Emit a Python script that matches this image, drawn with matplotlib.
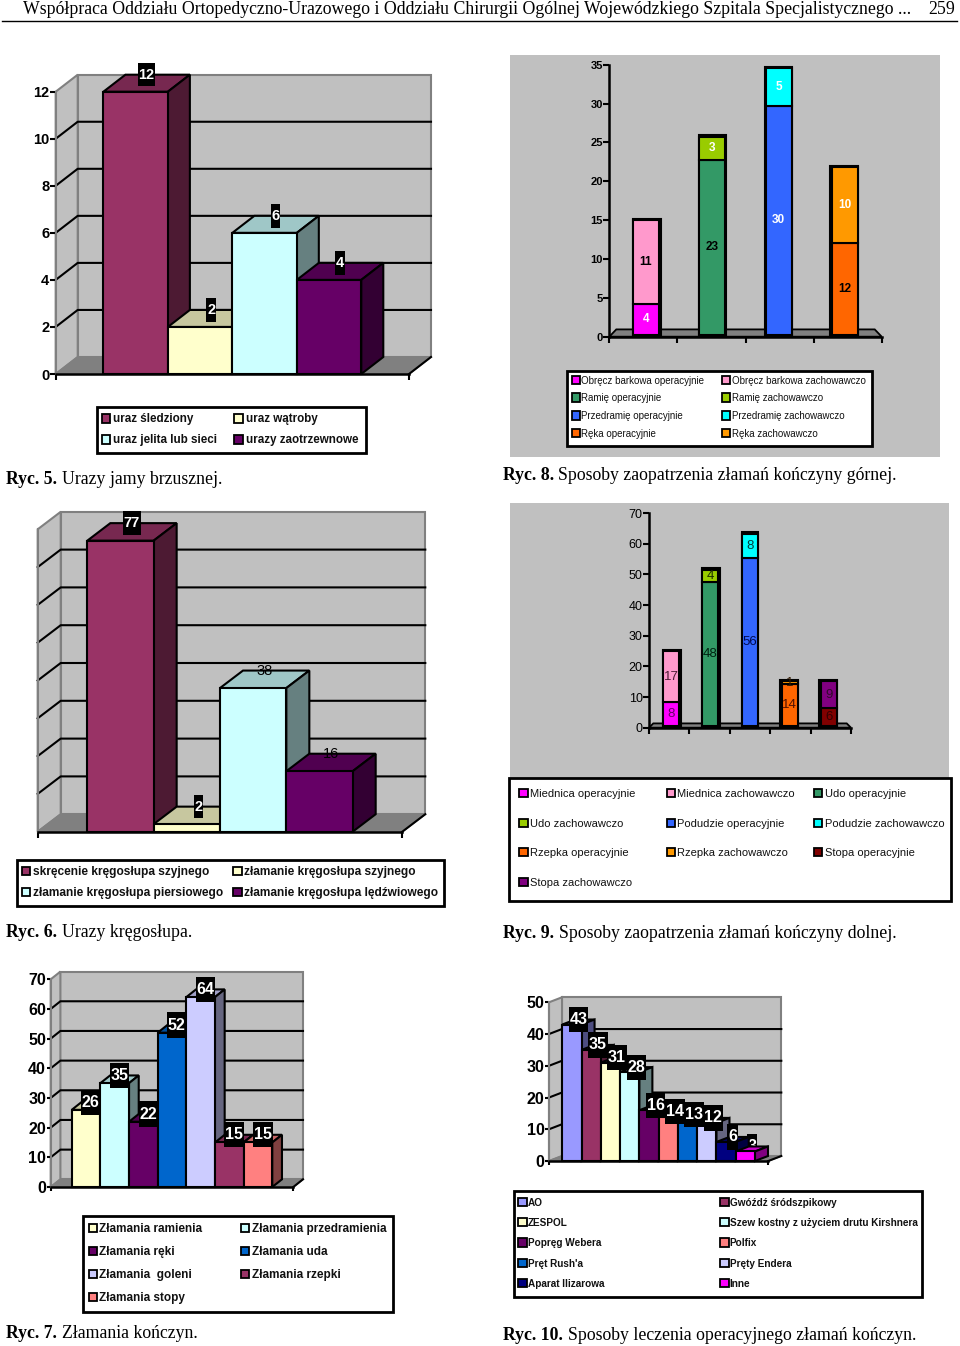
import matplotlib
matplotlib.use('Agg')
import matplotlib.pyplot as plt
from matplotlib.colors import to_rgb
from matplotlib.patches import Rectangle
from matplotlib.path import Path

plt.rcParams['font.family'] = ['Liberation Sans', 'DejaVu Sans']

W, H = 960, 1346
GRAY_WALL = '#C0C0C0'
GRAY_DARK = '#808080'

# Ryc. 5
r5_labels = ['uraz śledziony', 'uraz wątroby', 'uraz jelita lub sieci', 'urazy zaotrzewnowe']
r5_values = [12, 2, 6, 4]
r5_colors = ['#993366', '#FFFFCC', '#CCFFFF', '#660066']
r5_ticks = [0, 2, 4, 6, 8, 10, 12]

# Ryc. 6
r6_labels = ['skręcenie kręgosłupa szyjnego', 'złamanie kręgosłupa szyjnego',
             'złamanie kręgosłupa piersiowego', 'złamanie kręgosłupa lędźwiowego']
r6_values = [77, 2, 38, 16]
r6_colors = ['#993366', '#FFFFCC', '#CCFFFF', '#660066']
r6_ticks = [0, 10, 20, 30, 40, 50, 60, 70, 80]

# Ryc. 7
r7_labels = ['Złamania ramienia', 'Złamania przedramienia', 'Złamania ręki', 'Złamania uda',
             'Złamania  goleni', 'Złamania rzepki', 'Złamania stopy']
r7_values = [26, 35, 22, 52, 64, 15, 15]
r7_colors = ['#FFFFCC', '#CCFFFF', '#660066', '#0066CC', '#CCCCFF', '#993366', '#FF8080']
r7_ticks = [0, 10, 20, 30, 40, 50, 60, 70]

# Ryc. 10
r10_labels = ['AO', 'Gwóźdź śródszpikowy', 'ZESPOL', 'Szew kostny z użyciem drutu Kirshnera',
              'Popręg Webera', 'Polfix', 'Pręt Rush\'a', 'Pręty Endera', 'Aparat Ilizarowa', 'Inne']
r10_values = [43, 35, 31, 28, 16, 14, 13, 12, 6, 3]
r10_colors = ['#9999FF', '#993366', '#FFFFCC', '#CCFFFF', '#660066',
              '#FF8080', '#0066CC', '#CCCCFF', '#000080', '#FF00FF']
r10_ticks = [0, 10, 20, 30, 40, 50]

# Ryc. 8
r8_labels = ['Obręcz barkowa operacyjnie', 'Obręcz barkowa zachowawczo',
             'Ramię operacyjnie', 'Ramię zachowawczo',
             'Przedramię operacyjnie', 'Przedramię zachowawczo',
             'Ręka operacyjnie', 'Ręka zachowawczo']
r8_oper = [4, 23, 30, 12]
r8_zach = [11, 3, 5, 10]
r8_oper_colors = ['#FF00FF', '#339966', '#3366FF', '#FF6600']
r8_zach_colors = ['#FF99CC', '#99CC00', '#00FFFF', '#FF9900']
r8_oper_text = ['white', 'black', 'white', 'black']
r8_zach_text = ['black', 'white', 'white', 'white']
r8_ticks = [0, 5, 10, 15, 20, 25, 30, 35]

# Ryc. 9
r9_labels = ['Miednica operacyjnie', 'Miednica zachowawczo', 'Udo operacyjnie',
             'Udo zachowawczo', 'Podudzie operacyjnie', 'Podudzie zachowawczo',
             'Rzepka operacyjnie', 'Rzepka zachowawczo', 'Stopa operacyjnie',
             'Stopa zachowawczo']
r9_oper = [8, 48, 56, 14, 6]
r9_zach = [17, 4, 8, 1, 9]
r9_oper_colors = ['#FF00FF', '#339966', '#3366FF', '#FF6600', '#800000']
r9_zach_colors = ['#FF99CC', '#99CC00', '#00FFFF', '#FF9900', '#800080']
r9_oper_text = ['#660066', '#002010', '#000A50', '#501000', '#300000']
r9_zach_text = ['#4D1A33', '#1B2D00', '#003D3D', '#301800', '#300A2A']
r9_ticks = [0, 10, 20, 30, 40, 50, 60, 70]


def shade(color, k):
    return tuple(c * k for c in to_rgb(color))


def tall_box(x0, y0, width, height, mutation_size):
    # label box of the original is higher than it is wide
    px, py = 0.05 * mutation_size, 0.32 * mutation_size
    x0, y0, x1, y1 = x0 - px, y0 - py, x0 + width + px, y0 + height + py
    return Path([(x0, y0), (x1, y0), (x1, y1), (x0, y1), (x0, y0)], closed=True)


def make_axes(left, right, y0, ytop):
    ax = fig.add_axes([left / W, 1 - y0 / H, (right - left) / W, (y0 - ytop) / H])
    ax.patch.set_visible(False)
    for s in ['top', 'right']:
        ax.spines[s].set_visible(False)
    return ax


def bar3d(ax, x, top, width, ddx, ddy, color, z, lw=1.5):
    top_c, side_c = shade(color, 0.78), shade(color, 0.5)
    ax.fill([x, x + width, x + width + ddx, x + ddx], [top, top, top + ddy, top + ddy],
            fc=top_c, ec='black', lw=lw, zorder=z, clip_on=False)
    ax.fill([x + width, x + width + ddx, x + width + ddx, x + width],
            [0, ddy, top + ddy, top],
            fc=side_c, ec='black', lw=lw, zorder=z, clip_on=False)
    ax.bar(x, top, width, align='edge', color=color, edgecolor='black', linewidth=lw,
           zorder=z + 0.1, clip_on=False)


def walls(ax, xlim, ymax, ticks, ddx, ddy):
    xa, xb = xlim
    ax.fill([xa + ddx, xb + ddx, xb + ddx, xa + ddx], [ddy, ddy, ymax + ddy, ymax + ddy],
            fc=GRAY_WALL, ec=GRAY_DARK, lw=1.5, zorder=1, clip_on=False)
    ax.fill([xa, xa + ddx, xa + ddx, xa], [0, ddy, ymax + ddy, ymax],
            fc=GRAY_WALL, ec=GRAY_DARK, lw=1.5, zorder=1, clip_on=False)
    for v in ticks:
        if v == 0 or v == ymax:
            continue
        ax.plot([xa, xa + ddx, xb + ddx], [v, v + ddy, v + ddy], color='black', lw=1.5,
                zorder=1.2, clip_on=False)
    ax.fill([xa, xb, xb + ddx, xa + ddx], [0, 0, ddy, ddy], fc=GRAY_DARK, ec=GRAY_DARK, lw=1.2,
            zorder=1.5, clip_on=False)
    ax.plot([xb, xb + ddx], [0, ddy], color='black', lw=1.5, zorder=1.6, clip_on=False)


def style_ticks(ax, ticks, tick_size, tick_weight, xticks, spine_color, show_labels=True, tick_len=4):
    ax.set_yticks(ticks)
    ax.set_yticklabels([str(t) for t in ticks] if show_labels else [],
                       fontsize=tick_size, fontweight=tick_weight)
    ax.set_xticks(xticks)
    ax.set_xticklabels([])
    ax.tick_params(axis='both', length=tick_len, width=1.5, direction='out', pad=0.5, color='black')
    if not show_labels:
        ax.set_yticks([])
    ax.spines['left'].set_color(spine_color)
    ax.spines['left'].set_linewidth(1.5)
    ax.spines['bottom'].set_linewidth(1.8)


def chart_3d(box, ymax, values, colors, ticks, gap, dx, dy, tick_size, label_size,
             boxed=None, under=(), show_labels=True, tick_weight='bold', tick_len=4):
    left, right, y0, ytop = box
    ax = make_axes(left, right, y0, ytop)
    n = len(values)
    xlim = (-gap, n + gap)
    ax.set_xlim(xlim)
    ax.set_ylim(0, ymax)
    ddx = dx * (xlim[1] - xlim[0]) / (right - left)
    ddy = dy * ymax / (y0 - ytop)
    walls(ax, xlim, ymax, ticks, ddx, ddy)
    for i, v in enumerate(values):
        bar3d(ax, i, v, 1, ddx, ddy, colors[i], 2 + i * 0.2)
        is_boxed = boxed is None or boxed[i]
        z = 1.8 if i in under else 10
        ax.text(i + 0.5 + ddx / 2, v + ddy, str(v), ha='center', va='center',
                fontsize=label_size, fontweight='bold' if is_boxed else 'normal',
                color='white' if is_boxed else 'black', zorder=z,
                bbox=dict(boxstyle=tall_box, fc='black', ec='none') if is_boxed else None)
    style_ticks(ax, ticks, tick_size, tick_weight, list(xlim), GRAY_DARK, show_labels, tick_len)
    ax.set_xlim(xlim)
    ax.set_ylim(0, ymax)
    return ax


def chart_stacked(box, ymax, lower, upper, low_c, up_c, low_t, up_t, ticks, bar_w, dx, dy,
                  tick_size, label_size, tick_weight, lift, persp=0.98):
    left, right, y0, ytop = box
    ax = make_axes(left, right, y0, ytop)
    n = len(lower)
    ax.set_xlim(0, n)
    ax.set_ylim(0, ymax)
    unit = n / (right - left)
    yunit = ymax / (y0 - ytop)
    ddx, ddy = dx * unit, dy * yunit
    # floor narrows towards the back, the bars stand half way on it
    ax.fill([0, n, n - ddx, ddx], [0, 0, ddy, ddy], fc=GRAY_DARK, ec='black', lw=1.3,
            zorder=1.5, clip_on=False)
    step = (n - ddx) / n
    w = bar_w * unit
    sy = lift * yunit
    for i in range(n):
        cx = ddx / 2 + (i + 0.5) * step
        x = cx - w / 2
        y1 = sy + lower[i] * persp
        y2 = y1 + upper[i] * persp
        # black side and top of the bar, on the side that faces the middle
        side = 3 * unit * (1 - 2 * (i + 0.5) / n)
        ax.add_patch(Rectangle((x + min(side, 0), sy), w + abs(side), y2 - sy + 1.5 * yunit,
                               fc='black', ec='black', lw=1.5, zorder=2, clip_on=False))
        ax.bar(x, y1 - sy, w, bottom=sy, align='edge', color=low_c[i], edgecolor='black',
               linewidth=1.5, zorder=2.5, clip_on=False)
        ax.bar(x, y2 - y1, w, bottom=y1, align='edge', color=up_c[i], edgecolor='black',
               linewidth=1.5, zorder=2.5, clip_on=False)
        ax.text(cx, (sy + y1) / 2, str(lower[i]), ha='center', va='center',
                fontsize=label_size, color=low_t[i], fontweight=tick_weight, zorder=5)
        ax.text(cx, (y1 + y2) / 2, str(upper[i]), ha='center', va='center',
                fontsize=label_size, color=up_t[i], fontweight=tick_weight, zorder=5)
    style_ticks(ax, ticks, tick_size, tick_weight, list(range(n + 1)), 'black')
    ax.spines['left'].set_linewidth(1.8)
    ax.set_xlim(0, n)
    ax.set_ylim(0, ymax)
    return ax


def legend(box, labels, colors, rows, swatch_x, text_x, size, weight='bold', lw=2):
    x0, x1, y0, y1 = box
    page.add_patch(Rectangle((x0, y0), x1 - x0, y1 - y0, fc='white', ec='black', lw=lw, zorder=3))
    ncol = len(swatch_x)
    for i, lab in enumerate(labels):
        r, c = i // ncol, i % ncol
        page.add_patch(Rectangle((swatch_x[c], rows[r] - 4.2), 8.4, 8.4, fc=colors[i], ec='black',
                                 lw=1.3, zorder=4))
        page.text(text_x[c], rows[r] + 1, lab, fontsize=size, fontweight=weight, ha='left',
                  va='center', zorder=4, color='#111111')


def caption(x_bold, x_reg, y, bold, reg):
    page.text(x_bold, y + 1, bold, family='Liberation Serif', fontweight='bold', fontsize=CAP,
              ha='left', va='center')
    page.text(x_reg, y + 1, reg, family='Liberation Serif', fontsize=CAP, ha='left', va='center')


fig = plt.figure(figsize=(W / 100, H / 100), dpi=100, facecolor='white')
page = fig.add_axes([0, 0, 1, 1])
page.set_xlim(0, W)
page.set_ylim(H, 0)
page.axis('off')
CAP = 12.75

# header
page.text(23, 9, 'Współpraca Oddziału Ortopedyczno-Urazowego i Oddziału Chirurgii Ogólnej '
          'Wojewódzkiego Szpitala Specjalistycznego ...', family='Liberation Serif',
          fontsize=12.78, ha='left', va='center')
page.text(928, 9, '259', family='Liberation Serif', fontsize=12.78, ha='left', va='center')
page.plot([2, 957], [21, 21], color='black', lw=1)

# gray panels behind Ryc. 8 and 9
page.add_patch(Rectangle((510, 55), 430, 402, fc=GRAY_WALL, ec='none'))
page.add_patch(Rectangle((510, 502.5), 439, 275, fc=GRAY_WALL, ec='none'))

chart_3d((55.7, 409, 374, 91.7), 12, r5_values, r5_colors, r5_ticks, 0.74, 22, 17, 10.5, 10.5)
legend((96.7, 365.7, 407.3, 453.3), r5_labels, r5_colors, [418.3, 439.3], [101.7, 234.3],
       [113.3, 245.7], 8.4)
caption(6, 62.5, 479, 'Ryc. 5.', 'Urazy jamy brzusznej.')

chart_3d((37.7, 402.3, 831.7, 529.3), 80, r6_values, r6_colors, r6_ticks, 0.748, 23, 17.5, 10.5, 10.5,
         boxed=[True, True, False, False], show_labels=False)
legend((16.7, 444, 860, 906), r6_labels, r6_colors, [871.3, 892], [21.7, 233.3], [32.7, 244.3], 8.55)
caption(6, 62, 931.5, 'Ryc. 6.', 'Urazy kręgosłupa.')

chart_3d((50.7, 293.3, 1187, 979.3), 70, r7_values, r7_colors, r7_ticks, 0.734, 9.7, 7.7, 11.5, 11.5,
         tick_len=2.8)
legend((83.3, 393.3, 1215.7, 1312), r7_labels, r7_colors, [1227.7, 1250.7, 1274, 1296.7],
       [88.7, 240.7], [99.3, 251.7], 8.5)
caption(6, 62, 1332, 'Ryc. 7.', 'Złamania kończyn.')

chart_stacked((609.3, 881.7, 336.7, 64.7), 35, r8_oper, r8_zach, r8_oper_colors, r8_zach_colors,
              r8_oper_text, r8_zach_text, r8_ticks, 26, 7, 7.3, 8, 8.5, 'bold', 2)
legend((567.3, 872.3, 371, 445.7), r8_labels,
       [c for pair in zip(r8_oper_colors, r8_zach_colors) for c in pair],
       [379.7, 397.3, 415.3, 432.7], [571.7, 722], [581, 731.7], 7.0, weight='normal')
caption(503, 558, 475, 'Ryc. 8.', 'Sposoby zaopatrzenia złamań kończyny górnej.')

chart_stacked((649, 851, 727.7, 513), 70, r9_oper, r9_zach, r9_oper_colors, r9_zach_colors,
              r9_oper_text, r9_zach_text, r9_ticks, 16, 4.3, 4.3, 9, 9.5, 'normal', 1.5)
legend((509.3, 951, 777.7, 900.7), r9_labels,
       [c for pair in zip(r9_oper_colors, r9_zach_colors) for c in pair],
       [793.3, 822.7, 852.3, 882], [519.3, 666.7, 814], [530.3, 677.3, 824.7], 8.0, weight='normal')
caption(503, 558.7, 932.5, 'Ryc. 9.', 'Sposoby zaopatrzenia złamań kończyny dolnej.')

chart_3d((549, 768.3, 1161, 1002.3), 50, r10_values, r10_colors, r10_ticks, 0.69, 13, 5, 11.5, 11.5,
         under=(9,), tick_len=2.8)
legend((513.7, 922.3, 1191.3, 1297.3), r10_labels, r10_colors,
       [1201.7, 1222, 1242.3, 1262.7, 1282.7], [518.3, 720.3], [527.7, 729.7], 7.2)
caption(503, 567.7, 1335, 'Ryc. 10.', 'Sposoby leczenia operacyjnego złamań kończyn.')

fig.savefig('out.png', dpi=100)
